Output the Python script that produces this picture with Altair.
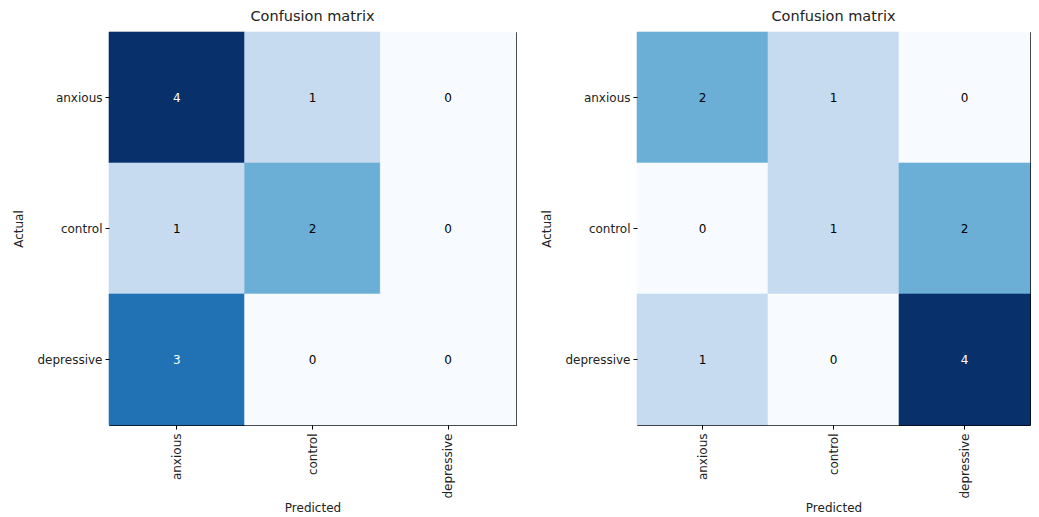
import altair as alt
import pandas as pd

classes = ["anxious", "control", "depressive"]
left_matrix = [
    [4, 1, 0],
    [1, 2, 0],
    [3, 0, 0],
]
right_matrix = [
    [2, 1, 0],
    [0, 1, 2],
    [1, 0, 4],
]
blues_domain = [0, 1, 2, 3, 4]
blues_range = ["#f7fbff", "#c6dbef", "#6baed6", "#2171b5", "#08306b"]

FONT = "DejaVu Sans"


def to_df(m):
    rows = []
    for i, a in enumerate(classes):
        for j, p in enumerate(classes):
            rows.append({"Actual": a, "Predicted": p, "value": m[i][j]})
    return pd.DataFrame(rows)


def panel(m, w):
    df = to_df(m)
    base = alt.Chart(df).encode(
        x=alt.X("Predicted:N", sort=classes, title="Predicted",
                axis=alt.Axis(labelAngle=-90, labelAlign="right", labelBaseline="middle",
                              labelPadding=4, tickSize=4, titlePadding=5)),
        y=alt.Y("Actual:N", sort=classes, title="Actual",
                axis=alt.Axis(labelPadding=3, tickSize=4, titlePadding=12)),
    )
    cscale = alt.Scale(domain=blues_domain, range=blues_range)
    rect = base.mark_rect(strokeWidth=0.6).encode(
        color=alt.Color("value:Q", legend=None, scale=cscale),
        stroke=alt.Stroke("value:Q", legend=None, scale=cscale),
    )
    text = base.mark_text(font=FONT, fontSize=12).encode(
        text="value:Q",
        color=alt.condition(alt.datum.value > 2, alt.value("white"), alt.value("black")),
    )
    return (rect + text).properties(
        width=w, height=393,
        title=alt.TitleParams("Confusion matrix", font=FONT, fontSize=14.5,
                              fontWeight="normal", color="#222", offset=7),
    )


chart = alt.hconcat(panel(left_matrix, 407), panel(right_matrix, 393), spacing=22).configure_view(
    stroke="black", strokeWidth=1
).configure_axis(
    labelFont=FONT, titleFont=FONT, labelFontSize=12, titleFontSize=12,
    labelColor="#222", titleColor="#222", titleFontWeight="normal",
    tickColor="black", domain=False, grid=False,
).configure_scale(bandPaddingInner=0, bandPaddingOuter=0).properties(
    padding={"left": 3, "top": 0, "right": 0, "bottom": 0}
)

chart.save("out.html", embed_options={"renderer": "svg", "actions": False})
